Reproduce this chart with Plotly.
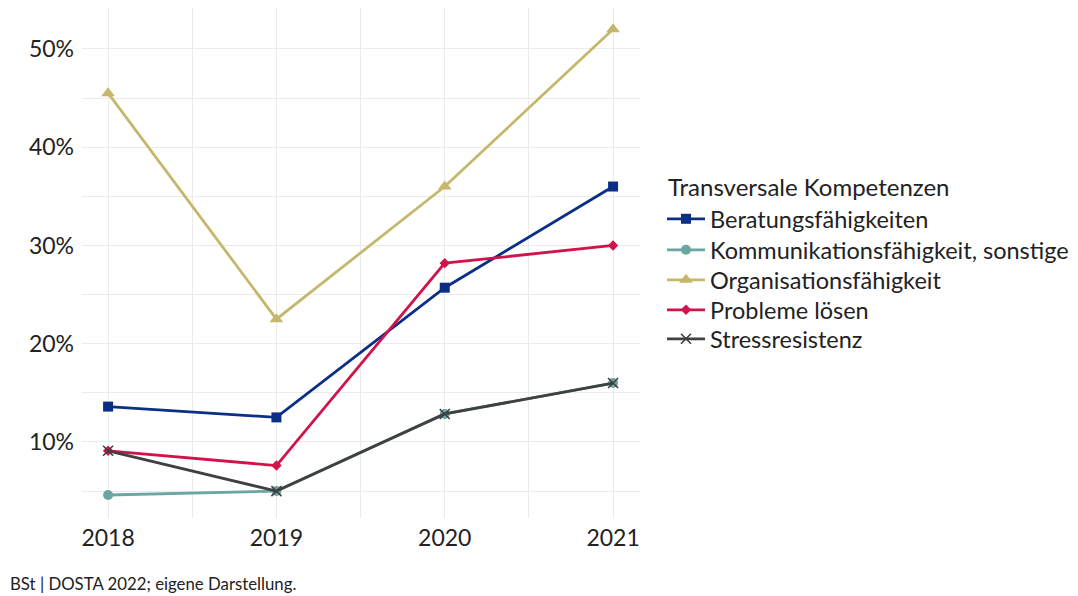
import plotly.graph_objects as go

years = [2018, 2019, 2020, 2021]
beratung = [13.6, 12.5, 25.7, 36.0]
kommunikation = [4.6, 5.0, 12.85, 16.0]
organisation = [45.5, 22.5, 36.0, 52.0]
probleme = [9.1, 7.6, 28.2, 30.0]
stress = [9.1, 5.0, 12.85, 16.0]
y_ticks = [10, 20, 30, 40, 50]
legend_title = "Transversale Kompetenzen"

series = [
    ("Beratungsfähigkeiten", beratung, "#0b2f86", "square", 10),
    ("Kommunikationsfähigkeit, sonstige", kommunikation, "#6aa6a2", "circle", 10),
    ("Organisationsfähigkeit", organisation, "#c5b86c", "triangle-up", 12),
    ("Probleme lösen", probleme, "#d2124b", "diamond", 8),
    ("Stressresistenz", stress, "#404040", "x-thin-open", 10),
]

# page body has an 8px margin; figure is laid out in figure pixel coordinates
plot_l, plot_w, plot_h = 74, 558, 510
legend_rows_px = [211, 242, 272, 302, 331]

fig = go.Figure()
layout_legends = {}
for i, (name, vals, color, sym, size) in enumerate(series):
    marker = dict(symbol=sym, size=size, color=color)
    if sym == "x-thin-open":
        marker["line"] = dict(width=1.6, color=color)
    lg = "legend" if i == 0 else f"legend{i + 1}"
    fig.add_trace(go.Scatter(
        x=years, y=vals, name=name, mode="lines+markers",
        line=dict(color=color, width=2.8), marker=marker, legend=lg,
    ))
    layout_legends[lg] = dict(
        font=dict(size=23.5), x=(662 - 8 - plot_l) / plot_w,
        y=(plot_h - legend_rows_px[i]) / plot_h, xanchor="left", yanchor="middle",
        itemwidth=38, bgcolor="rgba(0,0,0,0)",
    )

grid = "#ebebeb"
fig.update_layout(
    width=1070, height=588,
    paper_bgcolor="white", plot_bgcolor="white",
    margin=dict(l=plot_l, r=438, t=0, b=78, autoexpand=False),
    font=dict(family="Lato", color="#222222"),
    showlegend=True,
    xaxis=dict(
        range=[2017.845, 2021.16], tickvals=years, ticktext=[str(y) for y in years],
        showgrid=True, gridcolor=grid, gridwidth=1.2, zeroline=False, showline=False,
        tickfont=dict(size=23), ticks="", automargin=False, ticklabelstandoff=4,
        minor=dict(tickvals=[2018.5, 2019.5, 2020.5], showgrid=True, gridcolor=grid, gridwidth=1),
    ),
    yaxis=dict(
        range=[2.26, 54.17], tickvals=y_ticks, ticktext=[f"{v}%" for v in y_ticks],
        showgrid=True, gridcolor=grid, gridwidth=1.2, zeroline=False, showline=False,
        tickfont=dict(size=23), ticks="", automargin=False, ticklabelstandoff=7,
        minor=dict(tickvals=[5, 15, 25, 35, 45], showgrid=True, gridcolor=grid, gridwidth=1),
    ),
    annotations=[
        dict(
            text=legend_title, xref="paper", yref="paper",
            x=(658 - plot_l) / plot_w, y=(plot_h - 178) / plot_h,
            xanchor="left", yanchor="middle", showarrow=False,
            font=dict(size=24, color="#222222"),
        ),
        dict(
            text="BSt | DOSTA 2022; eigene Darstellung.", xref="paper", yref="paper",
            x=-plot_l / plot_w, y=-(575 - plot_h) / plot_h, xanchor="left", yanchor="middle",
            showarrow=False, font=dict(size=16.8, color="#222222"),
        ),
    ],
    **layout_legends,
)

fig.write_html("out.html")
